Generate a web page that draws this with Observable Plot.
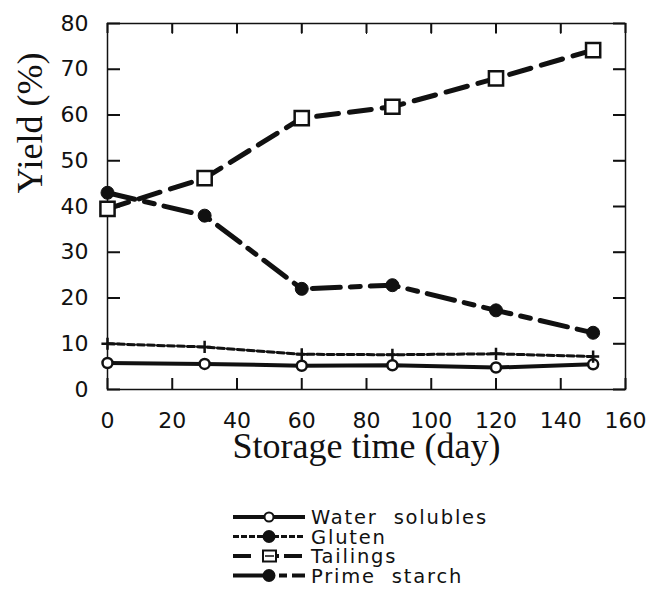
<!DOCTYPE html>
<html><head><meta charset="utf-8">
<script src="https://cdn.jsdelivr.net/npm/d3@7"></script>
<script src="https://cdn.jsdelivr.net/npm/@observablehq/plot@0.6"></script>
</head><body style="margin:0;background:#fff;"><div id="wrap" style="width:651px;height:600px;overflow:hidden;background:#fff;"></div>
<script>
const days = [0, 30, 60, 88, 120, 150];
const waterSolubles = [5.8, 5.6, 5.2, 5.3, 4.8, 5.5];
const gluten = [10.0, 9.3, 7.7, 7.6, 7.8, 7.2];
const tailings = [39.5, 46.2, 59.3, 61.8, 68.0, 74.2];
const primeStarch = [43.0, 38.0, 22.0, 22.8, 17.3, 12.4];
const seriesNames = ["Water  solubles", "Gluten", "Tailings", "Prime  starch"];
const xTicks = [0, 20, 40, 60, 80, 100, 120, 140, 160];
const yTicks = [0, 10, 20, 30, 40, 50, 60, 70, 80];
const xTitle = "Storage time (day)";
const yTitle = "Yield (%)";

const W = 651, H = 505, ML = 107, MR = 26, MT = 23, MB = 116;
const FW = W - ML - MR, FH = H - MT - MB;
const INK = "#111";

const seriesValues = [waterSolubles, gluten, tailings, primeStarch];
const styles = [
  {sw: 4, dash: null, symbol: "circle", fill: "white", r: 5, dsw: 2.5, legendFill: "white"},
  {sw: 3, dash: "7,3", symbol: "plus", fill: "none", r: 4, dsw: 2.5, legendFill: INK},
  {sw: 5, dash: "22,11", symbol: "square", fill: "white", r: 8, dsw: 2.5, legendFill: "white"},
  {sw: 5, dash: "28,10,10,10", symbol: "circle", fill: INK, r: 6.5, dsw: 1, legendFill: INK}
];
const tables = seriesValues.map((vals, s) => days.map((d, i) => ({day: d, value: vals[i], series: seriesNames[s]})));

const marks = [
  Plot.frame({stroke: INK, strokeWidth: 1.5}),
  Plot.tickX(xTicks, {x: d => d, insetTop: FH - 11, stroke: INK, strokeWidth: 2}),
  Plot.tickX(xTicks, {x: d => d, insetBottom: FH - 10, stroke: INK, strokeWidth: 2}),
  Plot.tickY(yTicks, {y: d => d, insetRight: FW - 13, stroke: INK, strokeWidth: 2}),
  Plot.tickY(yTicks, {y: d => d, insetLeft: FW - 12, stroke: INK, strokeWidth: 2}),
  Plot.axisX(xTicks, {anchor: "top", tickSize: -10, stroke: INK, tickFormat: () => "", label: null}),
  Plot.axisY(yTicks, {anchor: "right", tickSize: -12, stroke: INK, tickFormat: () => "", label: null}),
  Plot.axisX(xTicks, {anchor: "bottom", tickSize: 0, tickPadding: 23, fontSize: 22, fontFamily: "DejaVu Sans", fill: INK, label: null}),
  Plot.axisY(yTicks, {anchor: "left", tickSize: 0, tickPadding: 19, fontSize: 22, fontFamily: "DejaVu Sans", fill: INK, label: null}),
  Plot.text([xTitle], {frameAnchor: "bottom", dy: 68, fontFamily: "Liberation Serif", fontSize: 36, fill: INK}),
  Plot.text([yTitle], {frameAnchor: "left", rotate: -90, dx: -77, dy: -13, fontFamily: "Liberation Serif", fontSize: 36, fill: INK})
];
tables.forEach((t, s) => {
  const st = styles[s];
  marks.push(Plot.line(t, {x: "day", y: "value", stroke: INK, strokeWidth: st.sw, strokeDasharray: st.dash, strokeLinejoin: "round"}));
});
tables.forEach((t, s) => {
  const st = styles[s];
  marks.push(Plot.dot(t, {x: "day", y: "value", symbol: () => st.symbol, r: st.r, fill: st.fill, stroke: INK, strokeWidth: st.dsw}));
});

const chart = Plot.plot({
  width: W, height: H,
  marginLeft: ML, marginRight: MR, marginTop: MT, marginBottom: MB,
  x: {domain: [0, 160]},
  y: {domain: [0, 80]},
  marks
});
chart.style.display = "block";
document.getElementById("wrap").appendChild(chart);

// legend
const leg = d3.select("#wrap").append("svg").attr("width", 651).attr("height", 95).style("display", "block");
const rowY = i => 12 + i * 19.5;
seriesNames.forEach((name, i) => {
  const st = styles[i];
  const g = leg.append("g").attr("transform", `translate(0,${rowY(i)})`);
  g.append("line").attr("x1", 233).attr("x2", 305).attr("y1", 0).attr("y2", 0)
    .attr("stroke", INK).attr("stroke-width", Math.min(st.sw, 4))
    .attr("stroke-dasharray", i === 1 ? "6,2" : i === 2 ? "18,8,0,14,6,5" : i === 3 ? "30,6,0,10,8,5" : null);
  if (i === 2) {
    g.append("rect").attr("x", 263).attr("y", -5.5).attr("width", 13).attr("height", 11)
      .attr("fill", "white").attr("stroke", INK).attr("stroke-width", 2);
    g.append("line").attr("x1", 265).attr("x2", 274).attr("y1", 0).attr("y2", 0).attr("stroke", INK).attr("stroke-width", 1.5);
  } else {
    g.append("circle").attr("cx", 269).attr("cy", 0).attr("r", i === 0 ? 4.5 : 5.5)
      .attr("fill", st.legendFill).attr("stroke", INK).attr("stroke-width", 2);
  }
  g.append("text").attr("x", 311).attr("y", 0).attr("dy", "0.36em")
    .attr("font-family", "DejaVu Sans").attr("font-size", 19.5).attr("fill", INK)
    .attr("letter-spacing", "1.8px").style("white-space", "pre").text(name);
});
</script></body></html>
